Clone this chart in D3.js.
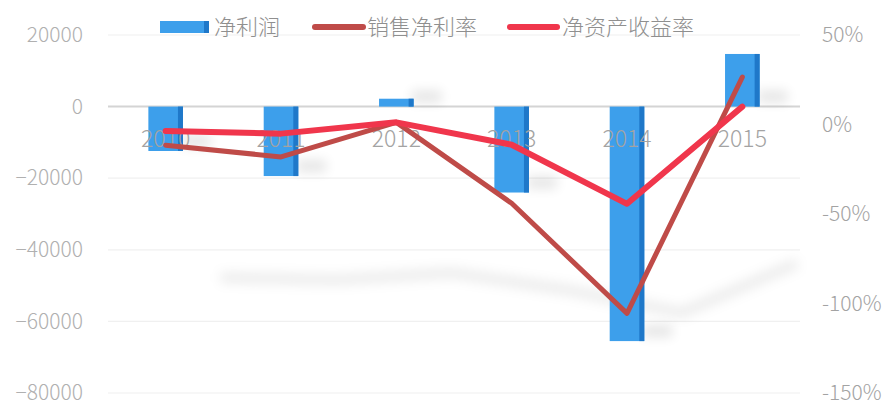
<!DOCTYPE html>
<html>
<head>
<meta charset="utf-8">
<script src="https://cdn.jsdelivr.net/npm/d3@7/dist/d3.min.js"></script>
<style>
  html, body { margin: 0; padding: 0; background: #fff; }
  svg { display: block; }
  text { font-family: "Noto Sans CJK SC", "Noto Sans", sans-serif; font-weight: 300; }
</style>
</head>
<body>
<svg id="chart" width="891" height="408"></svg>
<script>
// Financial series, 2010-2015
const years = ["2010", "2011", "2012", "2013", "2014", "2015"];
const netProfit = [-12400, -19400, 2200, -24000, -65500, 14700];   // 净利润
const netMargin = [-11.6, -18.1, 1.2, -44, -105.5, 26.5];          // 销售净利率 (%)
const roe = [-3.6, -5.1, 1.2, -11.3, -44.3, 10];                   // 净资产收益率 (%)
const leftTicks = [20000, 0, -20000, -40000, -60000, -80000];
const rightTicks = [50, 0, -50, -100, -150];
const seriesNames = ["净利润", "销售净利率", "净资产收益率"];

const plot = { left: 108, right: 800, top: 35, bottom: 393 };

const svg = d3.select("#chart");
const defs = svg.append("defs");
defs.append("filter").attr("id", "soft").attr("x", "-20%").attr("y", "-50%").attr("width", "140%").attr("height", "200%")
  .append("feGaussianBlur").attr("stdDeviation", 6);
defs.append("filter").attr("id", "softBar").attr("x", "-80%").attr("y", "-150%").attr("width", "260%").attr("height", "400%")
  .append("feGaussianBlur").attr("stdDeviation", 6);

const x = d3.scaleBand().domain(years).range([plot.left, plot.right]).paddingInner(0.7).paddingOuter(0.35);
const yL = d3.scaleLinear().domain([-80000, 20000]).range([plot.bottom, plot.top]);
const yR = d3.scaleLinear().domain([-150, 50]).range([plot.bottom, plot.top]);
const cx = d => x(d) + x.bandwidth() / 2;

// horizontal gridlines
svg.append("g").selectAll("line").data(leftTicks).join("line")
  .attr("x1", plot.left).attr("x2", plot.right)
  .attr("y1", d => yL(d)).attr("y2", d => yL(d))
  .attr("stroke", d => d === 0 ? "#d4d4d4" : "#f0f0f0")
  .attr("stroke-width", d => d === 0 ? 2 : 1.2);

// soft projected shadow under the margin line
const shadowLine = d3.line()
  .x((d, i) => cx(years[i]) + 55)
  .y(d => 247 + 0.21 * yR(d));
svg.append("path").datum(netMargin)
  .attr("d", shadowLine)
  .attr("fill", "none").attr("stroke", "#000").attr("stroke-opacity", 0.08)
  .attr("stroke-width", 10).attr("filter", "url(#soft)");

// bars: shadow, face, darker side strip
const barG = svg.append("g");
const barData = years.map((yr, i) => ({ yr, v: netProfit[i] }));
barG.selectAll("rect.shadow").data(barData).join("rect").attr("class", "shadow")
  .attr("x", d => x(d.yr) + x.bandwidth() - 2)
  .attr("y", d => Math.max(yL(d.v), yL(0)) - 16)
  .attr("width", 30).attr("height", 12)
  .attr("fill", "#000").attr("opacity", 0.1).attr("filter", "url(#softBar)");
barG.selectAll("rect.face").data(barData).join("rect").attr("class", "face")
  .attr("x", d => x(d.yr))
  .attr("y", d => Math.min(yL(d.v), yL(0)))
  .attr("width", x.bandwidth())
  .attr("height", d => Math.abs(yL(d.v) - yL(0)))
  .attr("fill", "#3d9feb");
barG.selectAll("rect.side").data(barData).join("rect").attr("class", "side")
  .attr("x", d => x(d.yr) + x.bandwidth() - 5)
  .attr("y", d => Math.min(yL(d.v), yL(0)))
  .attr("width", 5)
  .attr("height", d => Math.abs(yL(d.v) - yL(0)))
  .attr("fill", "#1f78c9");

// category labels sit just under the zero line
const xAxis = svg.append("g").attr("transform", `translate(0,${yL(0)})`)
  .call(d3.axisBottom(x).tickSize(0).tickPadding(24));
xAxis.select(".domain").remove();
xAxis.selectAll("text").attr("font-size", 23).attr("fill", "#a3a3a3")
  .style("font-family", "\"Noto Sans CJK SC\", sans-serif");

// left value axis
const lAxis = svg.append("g").attr("transform", `translate(${plot.left},0)`)
  .call(d3.axisLeft(yL).tickValues(leftTicks).tickSize(0).tickPadding(25).tickFormat(d3.format("d")));
lAxis.select(".domain").remove();
lAxis.selectAll("text").attr("font-size", 21).attr("fill", "#b0b0b0");

// right percent axis
const rAxis = svg.append("g").attr("transform", `translate(${plot.right},0)`)
  .call(d3.axisRight(yR).tickValues(rightTicks).tickSize(0).tickPadding(22).tickFormat(d => d + "%"));
rAxis.select(".domain").remove();
rAxis.selectAll("text").attr("font-size", 21).attr("fill", "#a3a3a3");

// lines
const line = scale => d3.line().x((d, i) => cx(years[i])).y(d => scale(d));
svg.append("path").datum(netMargin).attr("d", line(yR))
  .attr("fill", "none").attr("stroke", "#bf4b48").attr("stroke-width", 5)
  .attr("stroke-linejoin", "round").attr("stroke-linecap", "round");
svg.append("path").datum(roe).attr("d", line(yR))
  .attr("fill", "none").attr("stroke", "#f0364c").attr("stroke-width", 6)
  .attr("stroke-linejoin", "round").attr("stroke-linecap", "round");

// legend
const lg = svg.append("g");
const ly = 27;
lg.append("rect").attr("x", 160).attr("y", ly - 6).attr("width", 44).attr("height", 12).attr("fill", "#3d9feb");
lg.append("rect").attr("x", 204).attr("y", ly - 6).attr("width", 5).attr("height", 12).attr("fill", "#1f78c9");
lg.append("line").attr("x1", 315).attr("x2", 363).attr("y1", ly).attr("y2", ly)
  .attr("stroke", "#bf4b48").attr("stroke-width", 6).attr("stroke-linecap", "round");
lg.append("line").attr("x1", 510).attr("x2", 557).attr("y1", ly).attr("y2", ly)
  .attr("stroke", "#f0364c").attr("stroke-width", 6).attr("stroke-linecap", "round");
const labelX = [214, 367, 562];
lg.selectAll("text").data(seriesNames).join("text")
  .attr("x", (d, i) => labelX[i]).attr("y", ly).attr("dy", "0.35em")
  .attr("font-size", 22).attr("fill", "#8f8f8f").text(d => d);
</script>
</body>
</html>
